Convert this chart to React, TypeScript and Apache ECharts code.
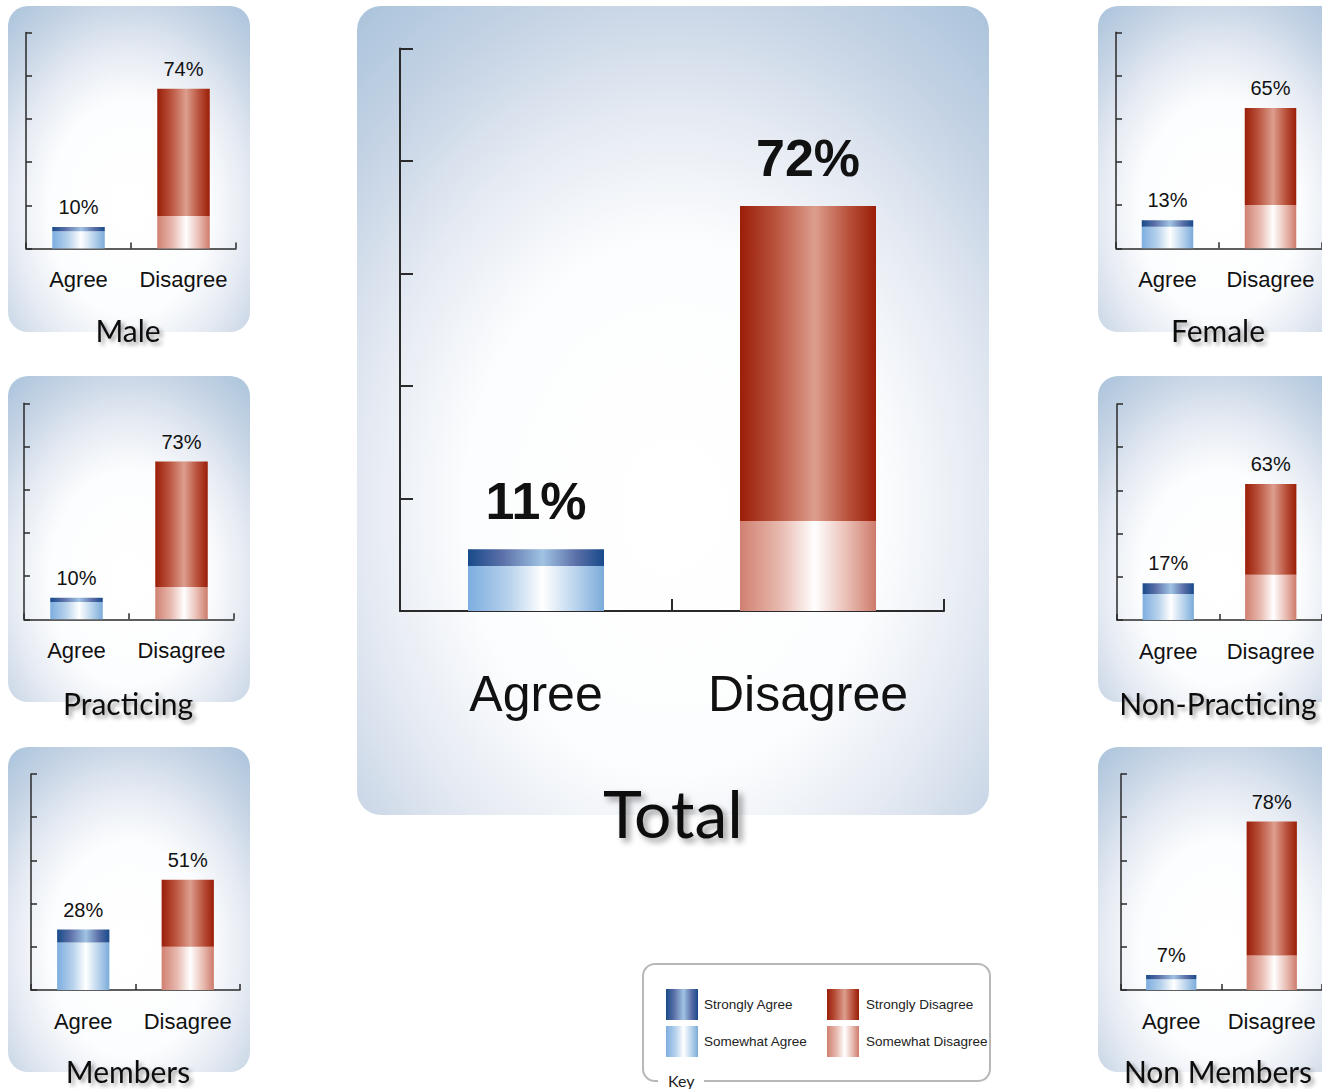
import React, { useEffect, useRef } from "react";
import * as echarts from "echarts";

// ---- data ----
const categories = ["Agree", "Disagree"];
const panelNames = ["Total", "Male", "Female", "Practicing", "Non-Practicing", "Members", "Non Members"];
const stronglyAgree = [3, 2, 3, 2, 5, 6, 2];
const somewhatAgree = [8, 8, 10, 8, 12, 22, 5];
const stronglyDisagree = [56, 59, 45, 58, 42, 31, 62];
const somewhatDisagree = [16, 15, 20, 15, 21, 20, 16];
const yMin = 0;
const yMax = 100;
const yInterval = 20;
const legendLeft = ["Strongly Agree", "Somewhat Agree"];
const legendRight = ["Strongly Disagree", "Somewhat Disagree"];

// ---- layout ----
const LAYOUT = [
  { grid: { left: 400, top: 48.5, width: 544, height: 562.5 }, panel: { x: 357, y: 6, w: 632, h: 809, r: 24 }, title: { x: 673, y: 812 }, big: true },
  { grid: { left: 26, top: 32.5, width: 210, height: 216 }, panel: { x: 8, y: 6, w: 242, h: 326, r: 20 }, title: { x: 128, y: 330 }, big: false },
  { grid: { left: 1116, top: 32.3, width: 208, height: 216 }, panel: { x: 1098, y: 6, w: 242, h: 326, r: 20 }, title: { x: 1218, y: 330 }, big: false },
  { grid: { left: 24, top: 403.3, width: 210, height: 216 }, panel: { x: 8, y: 376, w: 242, h: 326, r: 20 }, title: { x: 128, y: 703 }, big: false },
  { grid: { left: 1117, top: 404, width: 208, height: 216 }, panel: { x: 1098, y: 376, w: 242, h: 326, r: 20 }, title: { x: 1218, y: 703 }, big: false },
  { grid: { left: 31, top: 774, width: 209, height: 216 }, panel: { x: 8, y: 747, w: 242, h: 325, r: 20 }, title: { x: 128, y: 1071 }, big: false },
  { grid: { left: 1121, top: 774, width: 208, height: 216 }, panel: { x: 1098, y: 747, w: 242, h: 325, r: 20 }, title: { x: 1218, y: 1071 }, big: false },
];

const NARROW = "'Liberation Sans Narrow', 'Arial Narrow', 'Liberation Sans', Arial, sans-serif";
const ROUND = "Lato, 'Open Sans', sans-serif";

const hGrad = (stops: [number, string][]) => ({
  type: "linear",
  x: 0,
  y: 0,
  x2: 1,
  y2: 0,
  colorStops: stops.map(([offset, color]) => ({ offset, color })),
});

const COLORS: Record<string, any> = {
  "Strongly Agree": hGrad([[0, "#174a8a"], [0.25, "#5b6fa8"], [0.55, "#a0c3e3"], [0.8, "#5a6ea7"], [1, "#174a8a"]]),
  "Somewhat Agree": hGrad([[0, "#7dade0"], [0.3, "#b7d2ec"], [0.55, "#ffffff"], [0.8, "#b7d2ec"], [1, "#7babd9"]]),
  "Strongly Disagree": hGrad([[0, "#9a1e08"], [0.25, "#b8503a"], [0.55, "#dd9e8e"], [0.8, "#b8503a"], [1, "#9a1e08"]]),
  "Somewhat Disagree": hGrad([[0, "#d08070"], [0.3, "#e8bab0"], [0.55, "#ffffff"], [0.8, "#e8bab0"], [1, "#cd7b6b"]]),
};

const panelFill = {
  type: "radial",
  x: 0.5,
  y: 0.62,
  r: 0.78,
  colorStops: [
    { offset: 0, color: "#ffffff" },
    { offset: 0.42, color: "#fcfdfe" },
    { offset: 0.62, color: "#e6ebf3" },
    { offset: 0.82, color: "#c6d4e5" },
    { offset: 1, color: "#adc5dc" },
  ],
};

function buildOption() {
  const grid: any[] = [];
  const xAxis: any[] = [];
  const yAxis: any[] = [];
  const series: any[] = [];
  const title: any[] = [];
  const graphic: any[] = [];

  LAYOUT.forEach((L, i) => {
    const big = L.big;
    grid.push({ ...L.grid, containLabel: false });
    const axisColor = "#2a2a2a";
    const lw = big ? 2 : 1.5;
    xAxis.push({
      type: "category",
      gridIndex: i,
      data: categories,
      axisLine: { show: true, lineStyle: { color: axisColor, width: lw } },
      axisTick: { show: true, inside: true, length: big ? 12 : 6, lineStyle: { color: axisColor, width: lw } },
      axisLabel: {
        interval: 0,
        hideOverlap: false,
        margin: big ? 58 : 20,
        fontFamily: NARROW,
        fontSize: big ? 50 : 22,
        color: "#111",
      },
      splitLine: { show: false },
    });
    yAxis.push({
      type: "value",
      gridIndex: i,
      min: yMin,
      max: yMax,
      interval: yInterval,
      axisLine: { show: true, lineStyle: { color: axisColor, width: lw } },
      axisTick: { show: true, inside: true, length: big ? 13 : 6, lineStyle: { color: axisColor, width: lw } },
      axisLabel: { show: false },
      splitLine: { show: false },
    });

    const labelStyle = {
      show: true,
      position: "top",
      distance: big ? 22 : 10,
      fontFamily: NARROW,
      fontSize: big ? 52 : 20,
      fontWeight: big ? "bold" : 500,
      color: "#111",
    };
    const base = { type: "bar", xAxisIndex: i, yAxisIndex: i, stack: "p" + i, barWidth: "50%" };
    const agreeTotal = somewhatAgree[i] + stronglyAgree[i];
    const disTotal = somewhatDisagree[i] + stronglyDisagree[i];
    series.push({ ...base, name: "Somewhat Agree", data: [somewhatAgree[i], "-"], itemStyle: { color: COLORS["Somewhat Agree"] } });
    series.push({
      ...base,
      name: "Strongly Agree",
      data: [stronglyAgree[i], "-"],
      itemStyle: { color: COLORS["Strongly Agree"] },
      label: { ...labelStyle, formatter: () => agreeTotal + "%" },
    });
    series.push({ ...base, name: "Somewhat Disagree", data: ["-", somewhatDisagree[i]], itemStyle: { color: COLORS["Somewhat Disagree"] } });
    series.push({
      ...base,
      name: "Strongly Disagree",
      data: ["-", stronglyDisagree[i]],
      itemStyle: { color: COLORS["Strongly Disagree"] },
      label: { ...labelStyle, formatter: () => disTotal + "%" },
    });

    title.push({
      text: panelNames[i],
      left: L.title.x,
      top: L.title.y,
      textAlign: "center",
      textVerticalAlign: "middle",
      padding: 0,
      textStyle: {
        fontFamily: ROUND,
        fontWeight: "normal",
        fontSize: big ? 66 : 30,
        color: "#111",
        textShadowColor: "rgba(0,0,0,0.4)",
        textShadowBlur: big ? 6 : 4,
        textShadowOffsetX: big ? 4 : 3,
        textShadowOffsetY: big ? 4 : 3,
      },
    });

    graphic.push({
      type: "rect",
      silent: true,
      z: -10,
      shape: { x: L.panel.x, y: L.panel.y, width: L.panel.w, height: L.panel.h, r: L.panel.r },
      style: { fill: panelFill },
    });
  });

  // key box
  graphic.push({
    type: "rect",
    silent: true,
    z: -5,
    shape: { x: 643, y: 964, width: 347, height: 117, r: 12 },
    style: { fill: "transparent", stroke: "#b8b8b8", lineWidth: 2 },
  });
  graphic.push({
    type: "rect",
    silent: true,
    z: -4,
    shape: { x: 658, y: 1072, width: 46, height: 17 },
    style: { fill: "#ffffff" },
  });
  graphic.push({
    type: "text",
    silent: true,
    z: -3,
    style: { text: "Key", x: 668, y: 1080, font: "16px Lato, 'Open Sans', sans-serif", fill: "#222", textVerticalAlign: "middle", textAlign: "left" },
  });

  const legendCommon = {
    orient: "vertical",
    top: 989,
    itemWidth: 32,
    itemHeight: 31,
    itemGap: 6,
    icon: "rect",
    selectedMode: false,
    padding: 0,
    textStyle: { fontFamily: NARROW, fontSize: 13.5, color: "#222", padding: [0, 0, 0, 1] },
  };

  return {
    animation: false,
    backgroundColor: "#ffffff",
    grid,
    xAxis,
    yAxis,
    series,
    title,
    graphic,
    legend: [
      { ...legendCommon, left: 666, data: legendLeft },
      { ...legendCommon, left: 827, data: legendRight, textStyle: { ...legendCommon.textStyle, padding: [0, 0, 0, 2] } },
    ],
  };
}

export default function App() {
  const ref = useRef<HTMLDivElement>(null);
  useEffect(() => {
    document.body.style.margin = "0";
    if (!ref.current) return;
    const chart = echarts.init(ref.current, undefined, { renderer: "svg", width: 1322, height: 1089 });
    chart.setOption(buildOption() as any);
    return () => chart.dispose();
  }, []);
  return <div ref={ref} style={{ width: 1322, height: 1089 }} />;
}
